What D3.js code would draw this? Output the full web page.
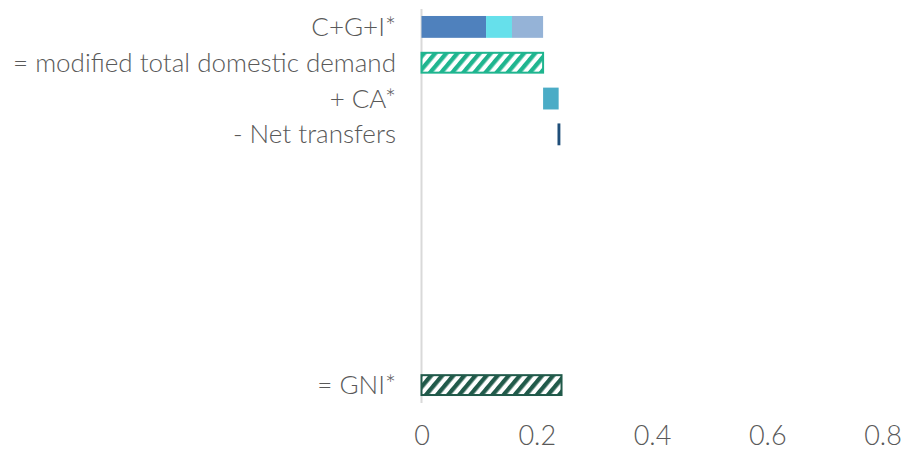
<!DOCTYPE html>
<html><head><meta charset="utf-8">
<script src="https://cdn.jsdelivr.net/npm/d3@7"></script>
<style>
html,body{margin:0;padding:0;background:#fff;}
svg text{font-family:"Lato","Open Sans",sans-serif;font-weight:300;fill:#595959;}
</style></head>
<body><svg id="chart" width="920" height="450"></svg>
<script>
// ---- data ----
const categories = ["C+G+I*", "= modified total domestic demand", "+ CA*", "- Net transfers", "", "", "", "", "", "", "= GNI*"];
const cgiNames = ["C", "G", "I"];
const cgiValues = [0.112, 0.045, 0.054];
const caValue = 0.027;
const netTransfersValue = 0.005;
const xTicks = [0, 0.2, 0.4, 0.6, 0.8];
const xTickLabels = ["0", "0.2", "0.4", "0.6", "0.8"];

const colors = {C: "#4f81bd", G: "#66e0eb", I: "#95b3d7", CA: "#4bacc6", NT: "#1f4e79", TDD: "#1fb58f", GNI: "#215a4a"};

// build waterfall segments
const segs = [];
let acc = 0;
cgiValues.forEach((v, i) => { segs.push({row: 0, x0: acc, x1: acc + v, fill: colors[cgiNames[i]]}); acc += v; });
const tdd = acc;
segs.push({row: 1, x0: 0, x1: tdd, hatch: "TDD"});
segs.push({row: 2, x0: tdd, x1: tdd + caValue, fill: colors.CA});
const afterCA = tdd + caValue;
segs.push({row: 3, x0: afterCA - 0.002, x1: afterCA - 0.002 + netTransfersValue, fill: colors.NT});
const gni = afterCA + netTransfersValue;
segs.push({row: 10, x0: 0, x1: gni, hatch: "GNI"});

// ---- layout ----
const svg = d3.select("#chart");
const mLeft = 421.5, mRight = 882.5, mTop = 9, mBottom = 403;
const x = d3.scaleLinear().domain([0, 0.8]).range([mLeft, mRight]);
const y = d3.scaleBand().domain(d3.range(categories.length)).range([mTop, mBottom]).paddingInner(0.39).paddingOuter(0.195);

// patterns
const defs = svg.append("defs");
["TDD", "GNI"].forEach(k => {
  const p = defs.append("pattern").attr("id", "hatch" + k).attr("patternUnits", "userSpaceOnUse")
    .attr("width", 8.5).attr("height", 8.5).attr("patternTransform", "rotate(40)");
  p.append("rect").attr("width", 8.5).attr("height", 8.5).attr("fill", "#fff");
  p.append("rect").attr("x", 0).attr("width", 4.3).attr("height", 8.5).attr("fill", colors[k]);
});

// zero line
svg.append("line").attr("x1", x(0)).attr("x2", x(0)).attr("y1", mTop).attr("y2", mBottom)
  .attr("stroke", "#d9d9d9").attr("stroke-width", 2);

// bars
svg.selectAll("rect.bar").data(segs).enter().append("rect").attr("class", "bar")
  .attr("x", d => x(d.x0))
  .attr("y", d => y(d.row) + (d.hatch ? 1 : 0))
  .attr("width", d => x(d.x1) - x(d.x0))
  .attr("height", d => y.bandwidth() - (d.hatch ? 2 : 0))
  .attr("fill", d => d.hatch ? `url(#hatch${d.hatch})` : d.fill)
  .attr("stroke", d => d.hatch ? colors[d.hatch] : "none")
  .attr("stroke-width", d => d.hatch ? 2 : 0);

// category labels
svg.selectAll("text.cat").data(categories).enter().append("text").attr("class", "cat")
  .attr("x", 396).attr("y", (d, i) => y(i) + y.bandwidth() / 2)
  .attr("dy", "0.35em").attr("text-anchor", "end").attr("font-size", 26).text(d => d);

// x axis
const xAxis = d3.axisBottom(x).tickValues(xTicks).tickFormat((d, i) => xTickLabels[i]).tickSize(0).tickPadding(0);
const gx = svg.append("g").attr("transform", `translate(0,${mBottom})`).call(xAxis);
gx.select(".domain").remove();
gx.selectAll("text").attr("font-size", 27).attr("dy", null).attr("y", 42);
</script></body></html>
